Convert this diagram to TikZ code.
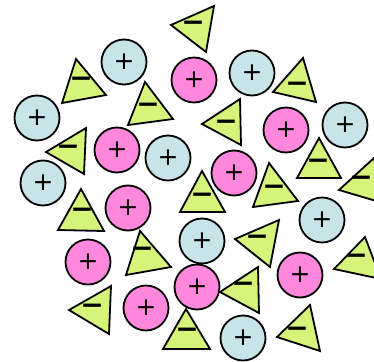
\documentclass[tikz,border=0pt]{standalone}
\usepackage{fontspec}
\newfontfamily\symfont{DejaVu Sans}
\newfontfamily\symbold{DejaVu Sans Bold}
\definecolor{cblue}{RGB}{200,228,232}
\definecolor{cpink}{RGB}{255,136,221}
\definecolor{cgreen}{RGB}{213,245,122}
\tikzset{
  ion/.style={circle,draw=black,line width=1.8pt,minimum size=45pt,inner sep=0pt,font=\symfont\fontsize{25}{25}\selectfont},
  bion/.style={ion,fill=cblue},
  pion/.style={ion,fill=cpink},
  tri/.style={draw=black,fill=cgreen,line width=1.8pt,line join=miter},
  minus/.style={inner sep=0pt,anchor=mid,font=\symbold\fontsize{28}{28}\selectfont}
}
\begin{document}
\begin{tikzpicture}[x=1pt,y=-1pt]
\useasboundingbox (0,0) rectangle (374,361);
\clip (0,0) rectangle (374,361);
% blue circles
\node[bion] (b1) at (124,62) {+};
\node[bion] (b2) at (37,118) {+};
\node[bion] (b3) at (168,158) {+};
\node[bion] (b4) at (43,183) {+};
\node[bion] (b5) at (252,73) {+};
\node[bion] (b6) at (345,125) {+};
\node[bion] (b7) at (202,241) {+};
\node[bion] (b8) at (322,220) {+};
\node[bion] (b9) at (243,338) {+};
% pink circles
\node[pion] (p1) at (194,80) {+};
\node[pion] (p2) at (117,150) {+};
\node[pion] (p3) at (286,130) {+};
\node[pion] (p4) at (234,173) {+};
\node[pion] (p5) at (128,208) {+};
\node[pion] (p6) at (88,262) {+};
\node[pion] (p7) at (146,308) {+};
\node[pion] (p8) at (197,287) {+};
\node[pion] (p9) at (300,275) {+};
% triangles
\draw[tri] (214,6) -- (206,52) -- (171,25) -- cycle;
\node[minus] (m1) at (193,29) {−};
\draw[tri] (76,59) -- (106,95) -- (62,103) -- cycle;
\node[minus] (m2) at (81,85) {−};
\draw[tri] (145,82) -- (173,119) -- (128,125) -- cycle;
\node[minus] (m3) at (148,111) {−};
\draw[tri] (86,128) -- (84,174) -- (46,152) -- cycle;
\node[minus] (m4) at (68,153) {−};
\draw[tri] (303,58) -- (316,102) -- (273,92) -- cycle;
\node[minus] (m5) at (297,90) {−};
\draw[tri] (240,99) -- (241,145) -- (202,124) -- cycle;
\node[minus] (m6) at (226,128) {−};
\draw[tri] (319,138) -- (341,178) -- (297,178) -- cycle;
\node[minus] (m7) at (318,167) {−};
\draw[tri] (374,158) -- (383,203) -- (339,190) -- cycle;
\node[minus] (m8) at (361,184) {−};
\draw[tri] (202,171) -- (225,212) -- (180,212) -- cycle;
\node[minus] (m9) at (202,201) {−};
\draw[tri] (269,163) -- (298,201) -- (253,207) -- cycle;
\node[minus] (m10) at (274,193) {−};
\draw[tri] (279,220) -- (270,267) -- (235,239) -- cycle;
\node[minus] (m12) at (257,243) {−};
\draw[tri] (365,237) -- (381,279) -- (334,269) -- cycle;
\node[minus] (m13) at (356,262) {−};
\draw[tri] (258,267) -- (259,313) -- (220,292) -- cycle;
\node[minus] (m14) at (243,290) {−};
\draw[tri] (310,305) -- (320,351) -- (277,337) -- cycle;
\node[minus] (m15) at (297,335) {−};
\draw[tri] (186,309) -- (210,349) -- (163,349) -- cycle;
\node[minus] (m16) at (187,336) {−};
\draw[tri] (81,189) -- (104,231) -- (58,230) -- cycle;
\node[minus] (m17) at (82,216) {−};
\draw[tri] (140,231) -- (171,267) -- (126,275) -- cycle;
\node[minus] (m18) at (142,255) {−};
\draw[tri] (111,286) -- (109,334) -- (69,310) -- cycle;
\node[minus] (m19) at (92,312) {−};
\end{tikzpicture}
\end{document}
